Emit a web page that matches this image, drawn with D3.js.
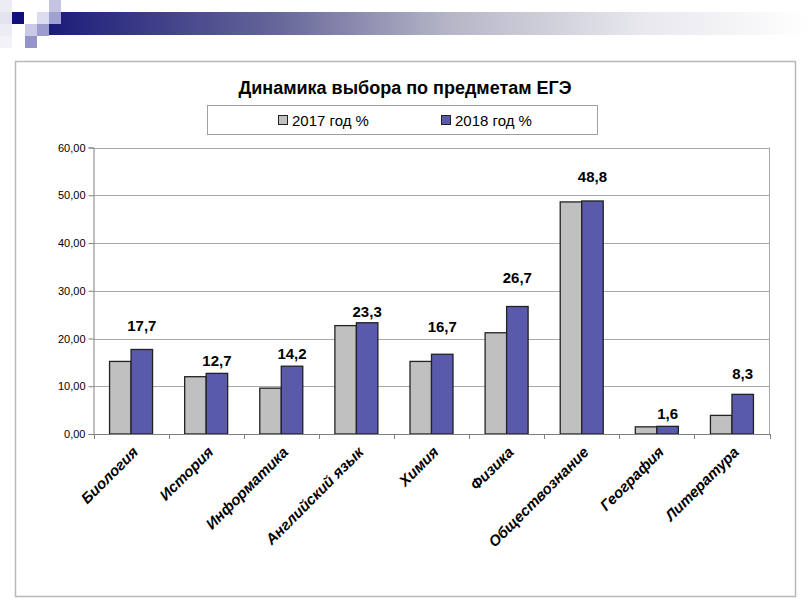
<!DOCTYPE html>
<html>
<head>
<meta charset="utf-8">
<script src="https://cdn.jsdelivr.net/npm/d3@7"></script>
<style>
  body { margin: 0; background: #fff; }
  text { font-family: Arial, "Liberation Sans", sans-serif; }
</style>
</head>
<body>
<div id="vizDiv"></div>
<script>
var width = 810
var height = 607

// data
var subjects = ["Биология", "История", "Информатика", "Английский язык", "Химия",
                "Физика", "Обществознание", "География", "Литература"]
var series = ["2017 год %", "2018 год %"]
var values2017 = [15.2, 12.0, 9.6, 22.7, 15.2, 21.2, 48.6, 1.5, 3.9]
var values2018 = [17.7, 12.7, 14.2, 23.3, 16.7, 26.7, 48.8, 1.6, 8.3]
var labels2018 = ["17,7", "12,7", "14,2", "23,3", "16,7", "26,7", "48,8", "1,6", "8,3"]
var yTicks = [0, 10, 20, 30, 40, 50, 60]

// value labels were hand placed in the original, gap above the blue bar (px)
var labelLift = [18, 7, 7, 6, 22, 24, 19, 7, 15]

var colors = ["#c0c0c0", "#5a5aad"]

var svg = d3.select("#vizDiv")
  .append("svg")
  .attr("width", width)
  .attr("height", height)

// slide decoration at the top
var defs = svg.append("defs")
var grad = defs.append("linearGradient").attr("id", "topBar")
grad.append("stop").attr("offset", "0%").attr("stop-color", "#1c1c7a")
grad.append("stop").attr("offset", "30%").attr("stop-color", "#66669a")
grad.append("stop").attr("offset", "52%").attr("stop-color", "#b4b4c6")
grad.append("stop").attr("offset", "78%").attr("stop-color", "#e8e8ee")
grad.append("stop").attr("offset", "100%").attr("stop-color", "#ffffff")

svg.append("rect").attr("x", 49).attr("y", 12).attr("width", 761).attr("height", 23)
  .attr("fill", "url(#topBar)")

var squares = [
  [0, 0, "#ececf4"], [0, 12, "#e4e4f0"], [0, 24, "#ececf4"], [0, 36, "#f2f2f8"],
  [12, 12, "#10107a"], [49, 0, "#c4c4e2"], [37, 12, "#dcdcee"], [49, 12, "#a0a0d2"],
  [25, 24, "#cacae6"], [37, 24, "#9c9ccf"], [25, 36, "#9494c8"]
]
svg.selectAll(".deco").data(squares).enter().append("rect")
  .attr("class", "deco")
  .attr("x", function(d) { return d[0] })
  .attr("y", function(d) { return d[1] })
  .attr("width", 12).attr("height", 12)
  .attr("fill", function(d) { return d[2] })

// chart frame
svg.append("rect").attr("x", 15.5).attr("y", 61.5).attr("width", 780).attr("height", 535)
  .attr("fill", "none").attr("stroke", "#b8b8b8").attr("stroke-width", 1.5)

svg.append("text")
  .attr("x", 405).attr("y", 94)
  .attr("text-anchor", "middle")
  .style("font-size", "18px").style("font-weight", "bold")
  .text("Динамика выбора по предметам ЕГЭ")

// legend
svg.append("rect").attr("x", 207.5).attr("y", 105.5).attr("width", 390).attr("height", 29)
  .attr("fill", "#fff").attr("stroke", "#a0a0a0")

var legendX = [278, 441]
series.forEach(function(s, i) {
  svg.append("rect").attr("x", legendX[i] + 0.5).attr("y", 115.5).attr("width", 9).attr("height", 9)
    .attr("fill", colors[i]).attr("stroke", "#222")
  svg.append("text").attr("x", legendX[i] + 14).attr("y", 126)
    .style("font-size", "15px").text(s)
})

// plot area
var plotLeft = 93.5, plotRight = 769.5, plotTop = 147.5, plotBottom = 434

var x0 = d3.scaleBand().domain(subjects).range([plotLeft, plotRight]).padding(0)
var x1 = d3.scaleBand().domain(series).range([0, 43]).padding(0)
var y = d3.scaleLinear().domain([0, 60]).range([plotBottom, plotTop])

// gridlines
svg.selectAll(".grid").data(yTicks.slice(1)).enter().append("line")
  .attr("class", "grid")
  .attr("x1", plotLeft).attr("x2", plotRight)
  .attr("y1", function(d) { return Math.round(y(d)) + 0.5 })
  .attr("y2", function(d) { return Math.round(y(d)) + 0.5 })
  .attr("stroke", "#a8a8a8")

svg.append("line").attr("x1", plotRight).attr("x2", plotRight).attr("y1", plotTop).attr("y2", plotBottom)
  .attr("stroke", "#a8a8a8")

// y axis
var yAxis = d3.axisLeft(y).tickValues(yTicks).tickSize(5).tickPadding(3)
  .tickFormat(function(d) { return d3.format(".2f")(d).replace(".", ",") })
var gy = svg.append("g").attr("transform", "translate(" + plotLeft + ",0)").call(yAxis)
gy.select(".domain").attr("stroke", "#808080")
gy.selectAll(".tick line").attr("stroke", "#808080")
gy.selectAll("text").style("font-size", "11px").attr("fill", "#000")
  .style("font-family", "Arial, 'Liberation Sans', sans-serif")

// bars
var groups = svg.selectAll(".group").data(subjects).enter().append("g")
  .attr("class", "group")
  .attr("transform", function(d) {
    return "translate(" + (x0(d) + x0.bandwidth() / 2 - 21.5) + ",0)"
  })

groups.selectAll("rect")
  .data(function(d, i) { return [values2017[i], values2018[i]] })
  .enter().append("rect")
  .attr("x", function(d, j) { return x1(series[j]) })
  .attr("y", function(d) { return y(d) })
  .attr("width", x1.bandwidth())
  .attr("height", function(d) { return plotBottom - y(d) })
  .attr("fill", function(d, j) { return colors[j] })
  .attr("stroke", "#222")
  .attr("stroke-width", 1.3)

// value labels over the 2018 bars
svg.selectAll(".vlabel").data(subjects).enter().append("text")
  .attr("class", "vlabel")
  .attr("x", function(d) { return x0(d) + x0.bandwidth() / 2 + x1.bandwidth() / 2 })
  .attr("y", function(d, i) { return y(values2018[i]) - labelLift[i] })
  .attr("text-anchor", "middle")
  .style("font-size", "15px").style("font-weight", "bold")
  .text(function(d, i) { return labels2018[i] })

// x axis
var xAxis = d3.axisBottom(x0).tickSize(0).tickFormat("")
var gx = svg.append("g").attr("transform", "translate(0," + plotBottom + ")").call(xAxis)
gx.select(".domain").attr("stroke", "#808080")

var bounds = subjects.map(function(d) { return x0(d) }).concat([plotRight])
svg.selectAll(".xtick").data(bounds).enter().append("line")
  .attr("class", "xtick")
  .attr("x1", function(d) { return Math.round(d) + 0.5 })
  .attr("x2", function(d) { return Math.round(d) + 0.5 })
  .attr("y1", plotBottom).attr("y2", plotBottom + 5)
  .attr("stroke", "#808080")

svg.selectAll(".xlabel").data(subjects).enter().append("text")
  .attr("class", "xlabel")
  .attr("transform", function(d) {
    return "translate(" + (x0(d) + x0.bandwidth() / 2 + 8) + "," + (plotBottom + 19) + ") rotate(-45)"
  })
  .attr("text-anchor", "end")
  .style("font-size", "15px").style("font-weight", "bold").style("font-style", "italic")
  .text(function(d) { return d })
</script>
</body>
</html>
